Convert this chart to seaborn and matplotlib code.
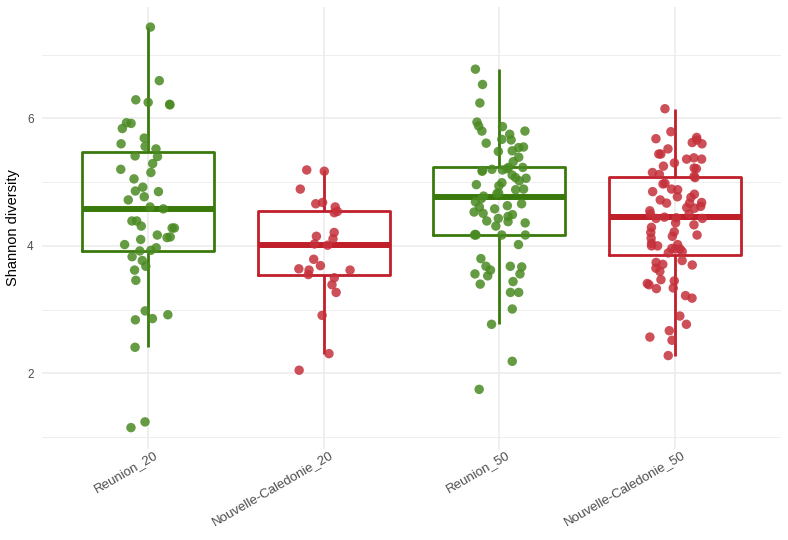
import numpy as np
import pandas as pd
import matplotlib
matplotlib.use("Agg")
import matplotlib.pyplot as plt
import matplotlib.transforms as mtransforms
import seaborn as sns

groups = ["Reunion_20", "Nouvelle-Caledonie_20", "Reunion_50", "Nouvelle-Caledonie_50"]

reunion_20 = [7.43, 6.59, 6.29, 6.25, 6.22, 6.21, 5.93, 5.92, 5.84, 5.69, 5.60, 5.56, 5.52,
              5.41, 5.40, 5.29, 5.20, 5.15, 5.05, 4.92, 4.86, 4.85, 4.77, 4.72, 4.61, 4.58,
              4.39, 4.39, 4.31, 4.28, 4.28, 4.17, 4.14, 4.13, 4.10, 4.02, 3.97, 3.93, 3.92,
              3.83, 3.77, 3.68, 3.62, 3.46, 2.98, 2.92, 2.86, 2.84, 2.41, 1.24, 1.15]

nc_20 = [5.19, 5.17, 4.89, 4.68, 4.66, 4.61, 4.54, 4.52, 4.21, 4.15, 4.11, 4.03, 4.01,
         3.79, 3.69, 3.64, 3.62, 3.62, 3.55, 3.50, 3.39, 3.27, 2.91, 2.31, 2.05]

reunion_50 = [6.77, 6.53, 6.24, 5.94, 5.88, 5.87, 5.80, 5.80, 5.75, 5.67, 5.66, 5.61, 5.55,
              5.54, 5.49, 5.48, 5.39, 5.32, 5.23, 5.23, 5.21, 5.20, 5.19, 5.18, 5.17, 5.11,
              5.07, 5.06, 5.02, 4.99, 4.96, 4.94, 4.89, 4.88, 4.83, 4.82, 4.78, 4.74, 4.69,
              4.66, 4.63, 4.61, 4.58, 4.53, 4.51, 4.49, 4.46, 4.43, 4.39, 4.38, 4.36, 4.31,
              4.18, 4.17, 4.17, 4.17, 4.17, 4.02, 3.80, 3.68, 3.68, 3.67, 3.62, 3.56, 3.56,
              3.53, 3.44, 3.40, 3.27, 3.27, 3.01, 2.77, 2.19, 1.75]

nc_50 = [6.15, 5.79, 5.70, 5.68, 5.66, 5.62, 5.60, 5.52, 5.44, 5.44, 5.38, 5.36, 5.36,
         5.30, 5.25, 5.22, 5.21, 5.15, 5.12, 5.09, 5.07, 4.98, 4.97, 4.89, 4.88, 4.85,
         4.81, 4.77, 4.76, 4.72, 4.68, 4.67, 4.67, 4.62, 4.60, 4.59, 4.55, 4.50, 4.50,
         4.45, 4.44, 4.43, 4.43, 4.36, 4.33, 4.29, 4.22, 4.21, 4.17, 4.15, 4.12, 4.04,
         4.02, 4.00, 4.00, 3.96, 3.95, 3.95, 3.91, 3.89, 3.77, 3.74, 3.71, 3.70, 3.65,
         3.60, 3.47, 3.45, 3.41, 3.39, 3.34, 3.33, 3.22, 3.18, 2.90, 2.77, 2.67, 2.57,
         2.52, 2.28]

values = [reunion_20, nc_20, reunion_50, nc_50]
df = pd.DataFrame({
    "group": np.repeat(groups, [len(v) for v in values]),
    "shannon": np.concatenate(values),
})

green_line = "#3a7a0c"
red_line = "#c01f2a"
green_pt = "#4a8a22"
red_pt = "#c5303b"
box_pal = {groups[0]: green_line, groups[1]: red_line, groups[2]: green_line, groups[3]: red_line}
pt_pal = {groups[0]: green_pt, groups[1]: red_pt, groups[2]: green_pt, groups[3]: red_pt}

sns.set_theme(style="whitegrid")
plt.rcParams['font.family'] = ['Liberation Sans', 'DejaVu Sans']

fig = plt.figure(figsize=(7.88, 5.40), dpi=100)
ax = fig.add_axes([42 / 788, 1 - 449 / 540, (781 - 42) / 788, (449 - 7) / 540])

sns.boxplot(data=df, x="group", y="shannon", hue="group", order=groups, hue_order=groups,
            palette=box_pal, fill=False, showfliers=False, showcaps=False, width=0.75,
            linewidth=2.0, medianprops={"linewidth": 4.3}, legend=False, ax=ax, zorder=2)

np.random.seed(3)
sns.stripplot(data=df, x="group", y="shannon", hue="group", order=groups, hue_order=groups,
              palette=pt_pal, jitter=0.16, size=6.8, alpha=0.85, linewidth=0,
              legend=False, ax=ax, zorder=3)

ax.set_xlim(-0.6, 3.6)
ax.set_ylim(0.815, 7.745)
ax.set_yticks([2, 4, 6])
ax.set_yticks([1, 3, 5, 7], minor=True)
ax.grid(which="major", axis="both", color="#ebebeb", linewidth=1.1)
ax.grid(which="minor", axis="y", color="#ebebeb", linewidth=0.6)
ax.set_axisbelow(True)
for s in ax.spines.values():
    s.set_visible(False)
ax.set_facecolor("white")
ax.tick_params(axis="both", which="both", length=0, colors="#4d4d4d", labelsize=8.5)
ax.tick_params(axis="x", labelsize=9.5, pad=0)
ax.tick_params(axis="y", pad=6)
offset = mtransforms.ScaledTranslation(6 / 100, 0 / 100, fig.dpi_scale_trans)
for lab in ax.get_xticklabels():
    lab.set_rotation(30)
    lab.set_ha("right")
    lab.set_rotation_mode("anchor")
    lab.set_transform(lab.get_transform() + offset)
ax.set_xlabel("")
ax.set_ylabel("Shannon diversity", fontsize=10.5, color="black", labelpad=5)

fig.savefig("out.png", dpi=100, facecolor="white")
